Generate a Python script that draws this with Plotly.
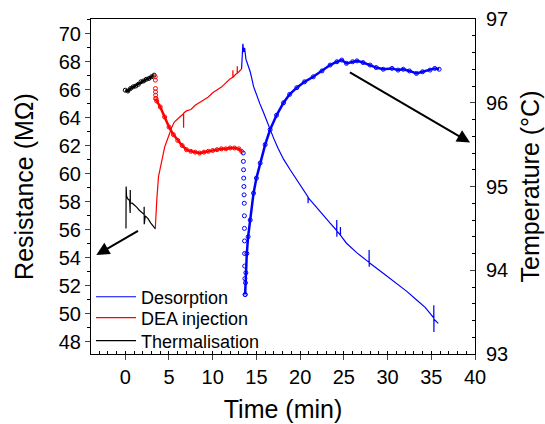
import plotly.graph_objects as go

# ---------------- data ----------------
# Thermalisation (black)
therm_t_R = [0.08, 0.10, 0.15, 0.30, 0.50, 0.56, 0.57, 0.58, 0.80, 1.00, 1.33, 1.60, 1.90, 2.15, 2.16, 2.17, 2.29, 2.60, 2.90, 3.20, 3.40]
therm_R = [56.1, 59.1, 58.4, 58.2, 58.1, 57.2, 58.85, 57.9, 57.9, 57.8, 57.6, 57.4, 57.2, 57.1, 57.65, 56.4, 57.0, 56.8, 56.5, 56.3, 56.1]
therm_t_T = [0.0, 0.3, 0.6, 0.9, 1.2, 1.5, 1.8, 2.1, 2.4, 2.7, 3.0, 3.3]
therm_T = [96.15, 96.14, 96.17, 96.19, 96.20, 96.22, 96.25, 96.26, 96.28, 96.29, 96.31, 96.33]

# DEA injection (red)
dea_t_R = [3.43, 3.50, 3.60, 3.80, 4.00, 4.20, 4.50, 5.00, 5.30, 5.60, 6.00, 6.30, 6.66, 6.67, 6.68, 7.00, 7.50, 8.00,
           8.50, 9.00, 9.50, 10.00, 10.50, 11.00, 11.50, 12.00, 12.30, 12.31, 12.32, 12.60, 12.80, 12.81, 12.82, 13.00, 13.30]
dea_R = [56.04, 57.3, 58.1, 59.8, 60.5, 61.0, 61.9, 62.8, 63.3, 63.7, 63.9, 64.1, 64.3, 63.3, 64.35, 64.5, 64.6, 64.9,
         65.1, 65.3, 65.5, 65.8, 66.0, 66.2, 66.5, 66.8, 66.9, 67.4, 66.9, 67.1, 67.2, 67.7, 67.2, 67.3, 67.5]
dea_t_T_drop = [3.43, 3.44, 3.45, 3.46, 3.47, 3.50]
dea_T_drop = [96.31, 96.27, 96.17, 96.13, 96.09, 96.05]
dea_t_T = [3.50, 3.60, 4.00, 4.50, 5.00, 5.50, 6.00, 6.50, 7.00, 7.50, 8.00, 8.50, 9.00, 9.50, 10.00, 10.50, 11.00,
           11.50, 12.00, 12.50, 13.00, 13.30]
dea_T = [96.05, 96.02, 95.95, 95.83, 95.71, 95.62, 95.55, 95.49, 95.44, 95.42, 95.41, 95.40, 95.41, 95.42, 95.43,
         95.44, 95.45, 95.45, 95.46, 95.46, 95.45, 95.42]

# Desorption (blue)
des_t_R = [13.30, 13.45, 13.55, 13.65, 13.80, 14.00, 14.29, 14.67, 15.00, 15.40, 15.80, 16.20, 16.57, 17.00, 17.50,
           18.10, 18.86, 19.60, 20.30, 20.90, 20.91, 20.92, 21.14, 22.00, 22.70, 23.43, 24.18, 24.19, 24.20, 24.21,
           24.60, 24.61, 24.62, 25.30, 26.50, 27.88, 27.89, 27.90, 27.91, 29.50, 31.05, 32.20, 33.33, 34.30, 34.86,
           35.28, 35.29, 35.30, 35.31, 35.80]
des_R = [67.5, 69.3, 68.7, 69.0, 68.2, 67.8, 67.3, 66.25, 65.65, 65.0, 64.4, 63.75, 63.15, 62.5, 61.8,
         61.05, 60.29, 59.57, 58.9, 58.35, 57.9, 58.3, 58.14, 57.5, 56.95, 56.47, 55.95, 56.7, 55.5, 55.9,
         55.62, 56.2, 55.6, 55.04, 54.35, 53.67, 54.55, 53.35, 53.65, 52.9, 52.18, 51.6, 50.98, 50.45, 50.03,
         49.7, 50.6, 48.7, 49.6, 49.31]
des_t_T_drop = [13.49, 13.51, 13.53, 13.55, 13.57, 13.59, 13.61, 13.62, 13.63, 13.64, 13.65, 13.66, 13.68, 13.71]
des_T_drop = [95.40, 95.30, 95.20, 95.10, 95.00, 94.90, 94.80, 94.65, 94.50, 94.35, 94.20, 94.05, 93.90, 93.71]
des_t_T = [13.71, 13.75, 13.79, 13.90, 14.05, 14.29, 14.67, 15.00, 15.43, 16.00, 16.57, 17.30, 18.10, 18.80, 19.62,
           20.50, 21.50, 22.50, 23.43, 24.20, 24.76, 25.30, 26.00, 26.50, 27.20, 28.00, 28.70, 29.50, 30.50, 31.20,
           31.80, 32.50, 33.30, 34.00, 34.86, 35.40, 35.90]
des_T = [93.71, 93.85, 93.97, 94.20, 94.40, 94.60, 94.92, 95.10, 95.28, 95.50, 95.68, 95.85, 96.00, 96.10, 96.18,
         96.25, 96.31, 96.38, 96.45, 96.49, 96.51, 96.47, 96.49, 96.50, 96.48, 96.45, 96.42, 96.40, 96.41, 96.39,
         96.40, 96.38, 96.35, 96.37, 96.39, 96.41, 96.40]

x_ticks = [0, 5, 10, 15, 20, 25, 30, 35, 40]

BLUE = "rgb(0,0,255)"
RED = "rgb(255,0,0)"
BLACK = "rgb(0,0,0)"
FONT = "Liberation Sans, Arial, sans-serif"

fig = go.Figure()

# resistance lines (each in its own legend box so the rows can be placed exactly)
fig.add_trace(go.Scatter(x=des_t_R, y=des_R, mode="lines", name="Desorption", legend="legend",
                         line=dict(color=BLUE, width=1.2), yaxis="y"))
fig.add_trace(go.Scatter(x=dea_t_R, y=dea_R, mode="lines", name="DEA injection", legend="legend2",
                         line=dict(color=RED, width=1.2), yaxis="y"))
fig.add_trace(go.Scatter(x=therm_t_R, y=therm_R, mode="lines", name="Thermalisation", legend="legend3",
                         line=dict(color=BLACK, width=1.2), yaxis="y"))

# temperature (open circles)
def temp_trace(x, y, color, dense):
    return go.Scatter(x=x, y=y, mode="lines+markers" if dense else "markers", showlegend=False,
                      line=dict(color=color, width=2.5),
                      marker=dict(symbol="circle-open", size=4, color=color, line=dict(width=1)),
                      yaxis="y2")

fig.add_trace(temp_trace(therm_t_T, therm_T, BLACK, True))
fig.add_trace(temp_trace(dea_t_T_drop, dea_T_drop, RED, False))
fig.add_trace(temp_trace(dea_t_T, dea_T, RED, True))
fig.add_trace(temp_trace(des_t_T_drop, des_T_drop, BLUE, False))
fig.add_trace(temp_trace(des_t_T, des_T, BLUE, True))

arrow_common = dict(xref="x", yref="y", axref="x", ayref="y", text="", showarrow=True,
                    arrowhead=2, arrowsize=1.3, arrowwidth=2, arrowcolor="black")

def leg(ypos):
    return dict(x=0.0, y=ypos, xanchor="left", yanchor="middle", bgcolor="rgba(0,0,0,0)",
                font=dict(size=18, family=FONT), itemwidth=40)

fig.update_layout(
    width=545, height=424,
    margin=dict(l=91, r=70, t=19, b=70),
    paper_bgcolor="white", plot_bgcolor="white",
    font=dict(family=FONT, color="black", size=20),
    showlegend=True,
    legend=leg(0.170),
    legend2=leg(0.1075),
    legend3=leg(0.039),
    xaxis=dict(range=[-3.92, 40], tickvals=x_ticks, ticks="outside", ticklen=5, tickwidth=1,
               minor=dict(dtick=1, ticks="inside", ticklen=3, tickcolor="black"),
               showline=True, linecolor="black", linewidth=1, mirror=True,
               showgrid=False, zeroline=False, automargin=False,
               title=dict(text="Time (min)", font=dict(size=25), standoff=13),
               tickfont=dict(size=20)),
    yaxis=dict(range=[47.12, 71.07], dtick=2, tick0=48, ticks="outside", ticklen=5, tickwidth=1,
               minor=dict(dtick=1, ticks="outside", ticklen=3, tickcolor="black"),
               showline=True, linecolor="black", linewidth=1,
               showgrid=False, zeroline=False, automargin=False,
               title=dict(text="Resistance (MΩ)", font=dict(size=25), standoff=18),
               tickfont=dict(size=20)),
    yaxis2=dict(range=[93, 97], dtick=1, overlaying="y", side="right", ticks="inside", ticklen=5, tickwidth=1,
                minor=dict(dtick=0.2, ticks="inside", ticklen=3, tickcolor="black"),
                showline=True, linecolor="black", linewidth=1, ticklabelstandoff=6,
                showgrid=False, zeroline=False, automargin=False,
                title=dict(text="Temperature (°C)", font=dict(size=25), standoff=14),
                tickfont=dict(size=20)),
    annotations=[
        dict(x=-3.31, y=54.2, ax=1.63, ay=55.99, **arrow_common),
        dict(x=39.43, y=62.24, ax=25.52, ay=67.32, **arrow_common),
    ],
)

fig.write_html("out.html", config={"displayModeBar": False},
               post_script="document.body.style.margin='0px';")
